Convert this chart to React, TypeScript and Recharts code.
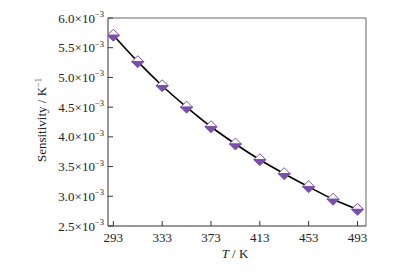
import React from 'react';
import { LineChart, Line, XAxis, YAxis, ReferenceLine, Label } from 'recharts';

const temperatures = [293, 313, 333, 353, 373, 393, 413, 433, 453, 473, 493];
const sensitivity = [5.71, 5.265, 4.86, 4.50, 4.17, 3.88, 3.615, 3.38, 3.16, 2.95, 2.78];
const xTicks = [293, 333, 373, 413, 453, 493];
const yTicks = [2.5, 3.0, 3.5, 4.0, 4.5, 5.0, 5.5, 6.0];

const data = temperatures.map((t, i) => ({ t, s: sensitivity[i] }));

const FONT = '"Liberation Serif", "DejaVu Serif", serif';
const PURPLE = '#7B4FA6';
const AXIS = '#333';

const YTick = (props: any) => {
  const { x, y, payload } = props;
  const ax = x + 4;
  return (
    <g>
      <line x1={ax} y1={y} x2={ax + 5} y2={y} stroke={AXIS} strokeWidth={1} />
      <text x={x} y={y + 4.5} textAnchor="end" fontFamily={FONT} fontSize={13} fill="#222">
        <tspan>{Number(payload.value).toFixed(1)}×10</tspan>
        <tspan fontSize={8.5} dy={-5.5}>−3</tspan>
      </text>
    </g>
  );
};

const XTick = (props: any) => {
  const { x, y, payload } = props;
  return (
    <g>
      <line x1={x} y1={y} x2={x} y2={y - 5} stroke={AXIS} strokeWidth={1} />
      <text x={x} y={y + 15.7} textAnchor="middle" fontFamily={FONT} fontSize={13} fill="#222">
        {payload.value}
      </text>
    </g>
  );
};

const Dot = (props: any) => {
  const { cx, cy } = props;
  if (cx == null || cy == null) return null;
  const r = 6;
  return (
    <g>
      <path d={`M${cx - r},${cy} L${cx},${cy - r} L${cx + r},${cy} Z`} fill="#fff" stroke={PURPLE} strokeWidth={1} />
      <path d={`M${cx - r},${cy} L${cx},${cy + r} L${cx + r},${cy} Z`} fill={PURPLE} stroke={PURPLE} strokeWidth={1} />
    </g>
  );
};

export default function App() {
  return (
    <LineChart width={384} height={264} data={data} margin={{ top: 10, right: 26, bottom: 0, left: 0 }}>
      <XAxis
        dataKey="t"
        type="number"
        domain={[288.6, 500]}
        ticks={xTicks}
        tick={<XTick />}
        tickSize={0}
        tickMargin={0}
        height={46}
        stroke={AXIS}
        allowDataOverflow
      >
        <Label
          content={() => (
            <text x={227} y={250} textAnchor="middle" fontFamily={FONT} fontSize={13} fill="#222">
              <tspan fontStyle="italic">T</tspan>
              <tspan> / K</tspan>
            </text>
          )}
        />
      </XAxis>
      <YAxis
        type="number"
        domain={[2.5, 6.0]}
        ticks={yTicks}
        tick={<YTick />}
        tickSize={0}
        tickMargin={4}
        width={100}
        stroke={AXIS}
        allowDataOverflow
      >
        <Label
          content={() => (
            <text
              x={38}
              y={112}
              transform="rotate(-90 38 112)"
              textAnchor="middle"
              fontFamily={FONT}
              fontSize={13}
              fill="#222"
            >
              <tspan>Sensitivity / K</tspan>
              <tspan fontSize={8.5} dy={-5.5}>−1</tspan>
            </text>
          )}
        />
      </YAxis>
      <ReferenceLine y={6.0} stroke="#666" strokeWidth={1} />
      <ReferenceLine x={500} stroke="#666" strokeWidth={1} />
      <Line
        type="monotone"
        dataKey="s"
        stroke="#000"
        strokeWidth={1.6}
        dot={<Dot />}
        isAnimationActive={false}
      />
    </LineChart>
  );
}
